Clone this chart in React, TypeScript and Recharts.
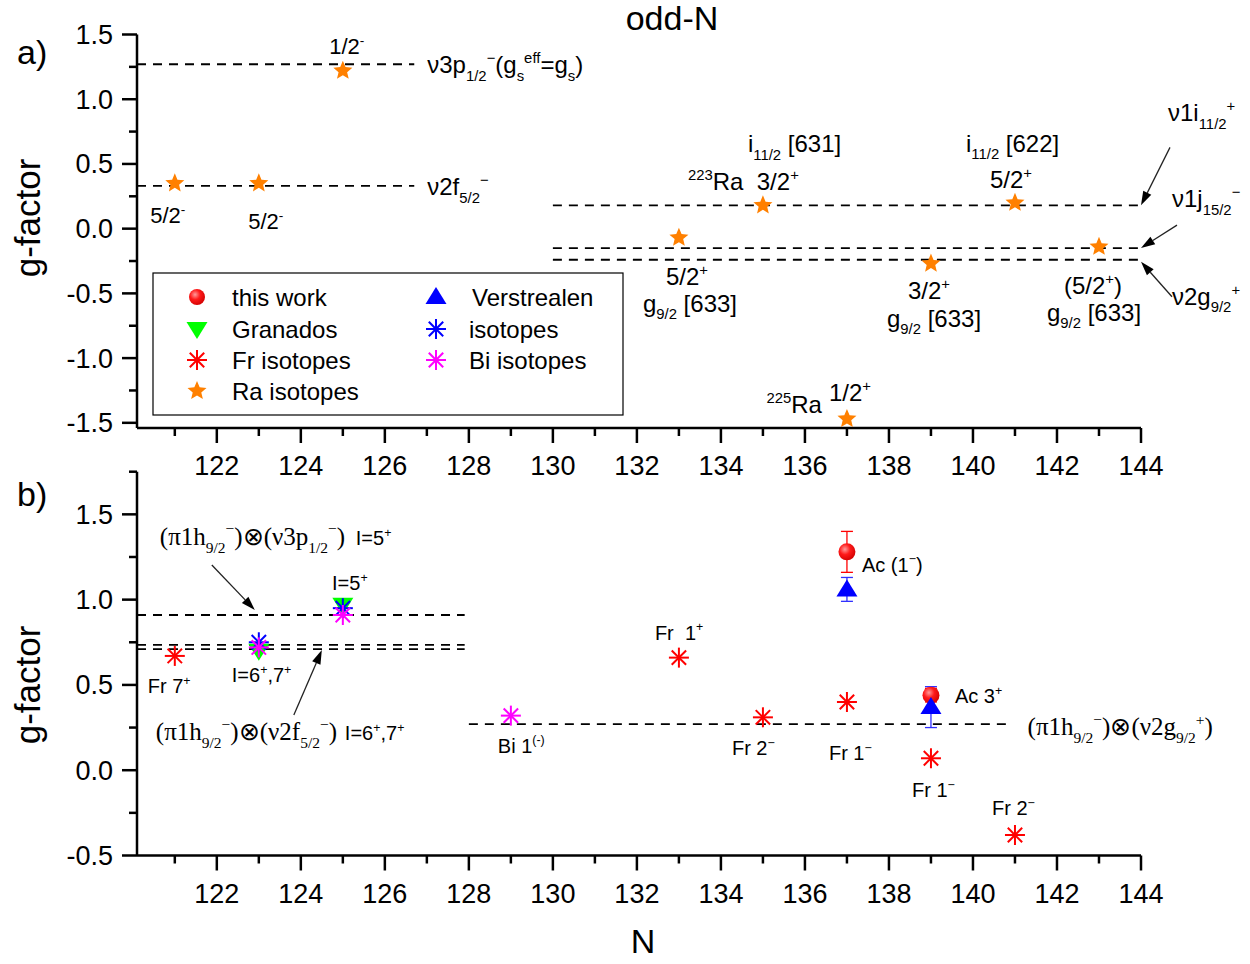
import React from "react";
import { ScatterChart, Scatter, XAxis, YAxis, ReferenceLine, ReferenceDot, ErrorBar } from "recharts";

const SANS = '"Liberation Sans", Arial, Helvetica, sans-serif';
const SERIF = '"Liberation Serif", "Times New Roman", serif';

// axes
const xTicks = [121, 122, 123, 124, 125, 126, 127, 128, 129, 130, 131, 132, 133, 134, 135, 136, 137, 138, 139, 140, 141, 142, 143, 144];
const topYTicks = [-1.5, -1.25, -1, -0.75, -0.5, -0.25, 0, 0.25, 0.5, 0.75, 1, 1.25, 1.5];
const botYTicks = [-0.5, -0.25, 0, 0.25, 0.5, 0.75, 1, 1.25, 1.5, 1.75];

// a) odd-N Ra isotopes
const raN = [121, 123, 125, 133, 135, 137, 139, 141, 143];
const raG = [0.35, 0.35, 1.22, -0.07, 0.18, -1.47, -0.27, 0.2, -0.14];

// single-particle levels, panel a)
const topLevelG = [1.27, 0.33, 0.18, -0.15, -0.24];
const topLevelFrom = [120.1, 120.1, 130, 130, 130];
const topLevelTo = [126.7, 126.7, 144, 144, 144];

// b) odd-odd
const frN = [121, 133, 135, 137, 139, 141];
const frG = [0.67, 0.66, 0.31, 0.4, 0.07, -0.38];
const isoN = [123, 125];
const isoG = [0.75, 0.95];
const biN = [123, 125, 129];
const biG = [0.72, 0.91, 0.32];
const granN = [123, 125];
const granG = [0.7, 0.97];
const thisN = [137, 139];
const thisG = [1.28, 0.44];
const thisErr = [0.12, 0.04];
const verN = [137, 139];
const verG = [1.06, 0.37];
const verErr = [0.07, 0.12];

// coupled configurations, panel b)
const botLevelG = [0.91, 0.735, 0.71, 0.27];
const botLevelFrom = [120.1, 120.1, 120.1, 128];
const botLevelTo = [127.9, 127.9, 127.9, 140.8];

const pts = (xs: number[], ys: number[], es?: number[]) =>
  xs.map((x, i) => ({ x, y: ys[i], e: es ? es[i] : 0 }));

// ---------- markers ----------
const Star = ({ cx, cy, r = 10, fill = "#ff8000" }: any) => {
  const p: string[] = [];
  for (let i = 0; i < 10; i++) {
    const a = (-90 + i * 36) * (Math.PI / 180);
    const rr = i % 2 === 0 ? r : r * 0.45;
    p.push(`${cx + rr * Math.cos(a)},${cy + rr * Math.sin(a)}`);
  }
  return <polygon points={p.join(" ")} fill={fill} />;
};

const Aster = ({ cx, cy, r = 10, color }: any) => (
  <g stroke={color} strokeWidth={2}>
    <line x1={cx - r} y1={cy} x2={cx + r} y2={cy} />
    <line x1={cx} y1={cy - r} x2={cx} y2={cy + r} />
    <line x1={cx - r * 0.72} y1={cy - r * 0.72} x2={cx + r * 0.72} y2={cy + r * 0.72} />
    <line x1={cx - r * 0.72} y1={cy + r * 0.72} x2={cx + r * 0.72} y2={cy - r * 0.72} />
  </g>
);

const Ball = ({ cx, cy, r = 8.5 }: any) => (
  <g>
    <defs>
      <radialGradient id="ballGrad" cx="0.38" cy="0.35" r="0.7">
        <stop offset="0" stopColor="#ff9a9a" />
        <stop offset="0.45" stopColor="#ff1a1a" />
        <stop offset="1" stopColor="#d00000" />
      </radialGradient>
    </defs>
    <circle cx={cx} cy={cy} r={r} fill="url(#ballGrad)" />
  </g>
);

const TriUp = ({ cx, cy, fill = "#0000ff" }: any) => (
  <polygon points={`${cx},${cy - 10} ${cx - 10.5},${cy + 7} ${cx + 10.5},${cy + 7}`} fill={fill} />
);
const TriDown = ({ cx, cy, fill = "#00ff00" }: any) => (
  <polygon points={`${cx},${cy + 10} ${cx - 10.5},${cy - 7} ${cx + 10.5},${cy - 7}`} fill={fill} />
);

// ---------- text with sub/superscripts ----------
function Rich({ s, x, y, size, anchor = "start", family = SANS }: any) {
  const parts: string[] = s.match(/_\{[^}]*\}|\^\{[^}]*\}|[^_^]+/g) || [];
  let cur = 0;
  return (
    <text x={x} y={y} fontSize={size} fontFamily={family} textAnchor={anchor} fill="#000">
      {parts.map((p, i) => {
        const sub = p.startsWith("_{");
        const sup = p.startsWith("^{");
        const t = sub || sup ? p.slice(2, -1) : p;
        const target = sub ? size * 0.32 : sup ? -size * 0.42 : 0;
        const dy = target - cur;
        cur = target;
        return (
          <tspan key={i} dy={dy} fontSize={sub || sup ? size * 0.62 : size}>
            {t}
          </tspan>
        );
      })}
    </text>
  );
}

const Arrow = ({ x1, y1, x2, y2 }: any) => {
  const a = Math.atan2(y2 - y1, x2 - x1);
  const L = 14, W = 4.5;
  const bx = x2 - L * Math.cos(a), by = y2 - L * Math.sin(a);
  const px = -Math.sin(a) * W, py = Math.cos(a) * W;
  return (
    <g>
      <line x1={x1} y1={y1} x2={bx} y2={by} stroke="#222" strokeWidth={1.3} />
      <polygon points={`${x2},${y2} ${bx + px},${by + py} ${bx - px},${by - py}`} fill="#000" />
    </g>
  );
};

// annotations anchored at data points (offsets in px)
type Note = { x: number; y: number; dx: number; dy: number; s: string; size?: number; a?: string; f?: string };
type Arw = { x: number; y: number; tx: number; ty: number; hx: number; hy: number };

const topNotes: Note[] = [
  { x: 125, y: 1.22, dx: 4, dy: -17, s: "1/2^{-}", size: 22, a: "middle" },
  { x: 121, y: 0.35, dx: -7, dy: 40, s: "5/2^{-}", size: 22, a: "middle" },
  { x: 123, y: 0.35, dx: 7, dy: 46, s: "5/2^{-}", size: 22, a: "middle" },
  { x: 126.7, y: 1.27, dx: 13, dy: 9, s: "ν3p_{1/2}^{−}(g_{s}^{eff}=g_{s})", size: 24 },
  { x: 126.7, y: 0.33, dx: 13, dy: 9, s: "ν2f_{5/2}^{−}", size: 24 },
  { x: 135, y: 0.18, dx: -75, dy: -15, s: "^{223}Ra\u00a0\u00a03/2^{+}", size: 24 },
  { x: 135, y: 0.18, dx: -15, dy: -53, s: "i_{11/2} [631]", size: 24 },
  { x: 141, y: 0.2, dx: -49, dy: -51, s: "i_{11/2} [622]", size: 24 },
  { x: 141, y: 0.2, dx: -4, dy: -15, s: "5/2^{+}", size: 24, a: "middle" },
  { x: 133, y: -0.07, dx: 8, dy: 47, s: "5/2^{+}", size: 24, a: "middle" },
  { x: 133, y: -0.07, dx: -36, dy: 74, s: "g_{9/2} [633]", size: 24 },
  { x: 139, y: -0.27, dx: -2, dy: 35, s: "3/2^{+}", size: 24, a: "middle" },
  { x: 139, y: -0.27, dx: -44, dy: 63, s: "g_{9/2} [633]", size: 24 },
  { x: 143, y: -0.14, dx: -6, dy: 47, s: "(5/2^{+})", size: 24, a: "middle" },
  { x: 143, y: -0.14, dx: -52, dy: 74, s: "g_{9/2} [633]", size: 24 },
  { x: 137, y: -1.47, dx: -25, dy: -6, s: "^{225}Ra", size: 24, a: "end" },
  { x: 137, y: -1.47, dx: 3, dy: -18, s: "1/2^{+}", size: 24, a: "middle" },
  { x: 144, y: 0.18, dx: 27, dy: -84, s: "ν1i_{11/2}^{+}", size: 24 },
  { x: 144, y: -0.15, dx: 31, dy: -41, s: "ν1j_{15/2}^{−}", size: 24 },
  { x: 144, y: -0.24, dx: 31, dy: 45, s: "ν2g_{9/2}^{+}", size: 24 },
];
const topArrows: Arw[] = [
  { x: 144, y: 0.18, tx: 29, ty: -58, hx: 0, hy: 0 },
  { x: 144, y: -0.15, tx: 36, ty: -23, hx: 0, hy: 0 },
  { x: 144, y: -0.24, tx: 31, ty: 37, hx: 0, hy: 2 },
];

const botNotes: Note[] = [
  { x: 123, y: 0.91, dx: -99, dy: -70, s: "(π1h_{9/2}^{−})⊗(ν3p_{1/2}^{−})", size: 25, f: SERIF },
  { x: 123, y: 0.91, dx: 97, dy: -70, s: "I=5^{+}", size: 20 },
  { x: 124.5, y: 0.71, dx: -166, dy: 91, s: "(π1h_{9/2}^{−})⊗(ν2f_{5/2}^{−})", size: 25, f: SERIF },
  { x: 124.5, y: 0.71, dx: 23, dy: 91, s: "I=6^{+},7^{+}", size: 20 },
  { x: 125, y: 0.91, dx: 7, dy: -25, s: "I=5^{+}", size: 20, a: "middle" },
  { x: 121, y: 0.67, dx: -27, dy: 37, s: "Fr 7^{+}", size: 20 },
  { x: 123, y: 0.72, dx: -27, dy: 35, s: "I=6^{+},7^{+}", size: 20 },
  { x: 133, y: 0.66, dx: -24, dy: -18, s: "Fr\u00a0\u00a01^{+}", size: 20 },
  { x: 129, y: 0.32, dx: -13, dy: 37, s: "Bi 1^{(-)}", size: 20 },
  { x: 135, y: 0.31, dx: -31, dy: 38, s: "Fr 2^{−}", size: 20 },
  { x: 137, y: 0.4, dx: -18, dy: 58, s: "Fr 1^{−}", size: 20 },
  { x: 139, y: 0.07, dx: -19, dy: 39, s: "Fr 1^{−}", size: 20 },
  { x: 141, y: -0.38, dx: -23, dy: -20, s: "Fr 2^{−}", size: 20 },
  { x: 137, y: 1.28, dx: 15, dy: 20, s: "Ac (1^{−})", size: 20 },
  { x: 139, y: 0.44, dx: 24, dy: 8, s: "Ac 3^{+}", size: 20 },
  { x: 140.8, y: 0.27, dx: 21, dy: 11, s: "(π1h_{9/2}^{−})⊗(ν2g_{9/2}^{+})", size: 25, f: SERIF },
];
const botArrows: Arw[] = [
  { x: 123, y: 0.91, tx: -47, ty: -50, hx: -4, hy: -5 },
  { x: 124.5, y: 0.71, tx: -28, ty: 66, hx: 0, hy: 1 },
];

const noteDot = (n: Note, k: string) => (
  <ReferenceDot
    key={k}
    x={n.x}
    y={n.y}
    r={0}
    ifOverflow="visible"
    shape={(p: any) => (
      <Rich s={n.s} x={p.cx + n.dx} y={p.cy + n.dy} size={n.size ?? 20} anchor={n.a ?? "start"} family={n.f ?? SANS} />
    )}
  />
);
const arrowDot = (a: Arw, k: string) => (
  <ReferenceDot
    key={k}
    x={a.x}
    y={a.y}
    r={0}
    ifOverflow="visible"
    shape={(p: any) => <Arrow x1={p.cx + a.tx} y1={p.cy + a.ty} x2={p.cx + a.hx} y2={p.cy + a.hy} />}
  />
);

// ---------- ticks ----------
const XTick = (p: any) => {
  const v = p.payload.value;
  const major = v % 2 === 0;
  return (
    <g>
      <line x1={p.x} x2={p.x} y1={p.y} y2={p.y + (major ? 15 : 8)} stroke="#000" strokeWidth={2.5} />
      {major && (
        <text x={p.x} y={p.y + 47} textAnchor="middle" fontSize={27} fontFamily={SANS} fill="#000">
          {v}
        </text>
      )}
    </g>
  );
};
const YTick = (p: any) => {
  const v = p.payload.value;
  const major = Math.abs(v * 2 - Math.round(v * 2)) < 1e-6;
  return (
    <g>
      <line x1={p.x} x2={p.x - (major ? 15 : 8)} y1={p.y} y2={p.y} stroke="#000" strokeWidth={2.5} />
      {major && (
        <text x={p.x - 24} y={p.y + 9.5} textAnchor="end" fontSize={27} fontFamily={SANS} fill="#000">
          {v.toFixed(1)}
        </text>
      )}
    </g>
  );
};

const axisLine = { stroke: "#000", strokeWidth: 2.5 };

const levelLines = (g: number[], from: number[], to: number[], k: string) =>
  g.map((v, i) => (
    <ReferenceLine
      key={k + i}
      segment={[{ x: from[i], y: v }, { x: to[i], y: v }]}
      stroke="#000"
      strokeWidth={1.8}
      strokeDasharray="9 7"
      ifOverflow="visible"
    />
  ));

const xAxis = (
  <XAxis
    type="number"
    dataKey="x"
    domain={[120.1, 144]}
    allowDataOverflow
    ticks={xTicks}
    interval={0}
    tick={<XTick />}
    tickLine={false}
    tickSize={0}
    tickMargin={0}
    axisLine={axisLine}
    height={40}
  />
);

function LegendBox() {
  const rows = [297, 329, 360, 391];
  const t = (x: number, y: number, s: string) => (
    <text x={x} y={y + 8.5} fontSize={24} fontFamily={SANS} fill="#000">
      {s}
    </text>
  );
  return (
    <g>
      <rect x={153} y={273} width={470} height={142} fill="#fff" stroke="#000" strokeWidth={1.2} />
      <Ball cx={197} cy={rows[0]} r={8} />
      {t(232, rows[0], "this work")}
      <TriDown cx={197} cy={rows[1]} />
      {t(232, rows[1], "Granados")}
      <Aster cx={197} cy={rows[2]} color="#ff0000" />
      {t(232, rows[2], "Fr isotopes")}
      <Star cx={197} cy={rows[3]} />
      {t(232, rows[3], "Ra isotopes")}
      <TriUp cx={436} cy={rows[0]} />
      {t(472, rows[0], "Verstrealen")}
      <Aster cx={436} cy={rows[1]} color="#0000ff" />
      {t(469, rows[1], "isotopes")}
      <Aster cx={436} cy={rows[2]} color="#ff00ff" />
      {t(469, rows[2], "Bi isotopes")}
    </g>
  );
}

export default function App() {
  return (
    <div style={{ position: "absolute", left: 0, top: 0, width: 1250, height: 964, background: "#fff" }}>
      <div style={{ position: "absolute", left: 0, top: 0 }}>
        <ScatterChart width={1250} height={480} margin={{ top: 34.5, right: 109, bottom: 12, left: 0 }}>
          {xAxis}
          <YAxis
            type="number"
            dataKey="y"
            domain={[-1.54, 1.5]}
            allowDataOverflow
            ticks={topYTicks}
            interval={0}
            tick={<YTick />}
            tickLine={false}
            tickSize={0}
            tickMargin={0}
            axisLine={axisLine}
            width={137}
          />
          {levelLines(topLevelG, topLevelFrom, topLevelTo, "tl")}
          <Scatter
            name="Ra isotopes"
            data={pts(raN, raG)}
            isAnimationActive={false}
            shape={(p: any) => <Star cx={p.cx} cy={p.cy} />}
          />
          {topNotes.map((n, i) => noteDot(n, "tn" + i))}
          {topArrows.map((a, i) => arrowDot(a, "ta" + i))}
        </ScatterChart>
      </div>
      <div style={{ position: "absolute", left: 0, top: 440 }}>
        <ScatterChart width={1250} height={524} margin={{ top: 31.7, right: 109, bottom: 68.5, left: 0 }}>
          {xAxis}
          <YAxis
            type="number"
            dataKey="y"
            domain={[-0.5, 1.75]}
            allowDataOverflow
            ticks={botYTicks}
            interval={0}
            tick={<YTick />}
            tickLine={false}
            tickSize={0}
            tickMargin={0}
            axisLine={axisLine}
            width={137}
          />
          {levelLines(botLevelG, botLevelFrom, botLevelTo, "bl")}
          <Scatter name="Granados" data={pts(granN, granG)} isAnimationActive={false}
            shape={(p: any) => <TriDown cx={p.cx} cy={p.cy} />} />
          <Scatter name="isotopes" data={pts(isoN, isoG)} isAnimationActive={false}
            shape={(p: any) => <Aster cx={p.cx} cy={p.cy} color="#0000ff" />} />
          <Scatter name="Bi isotopes" data={pts(biN, biG)} isAnimationActive={false}
            shape={(p: any) => <Aster cx={p.cx} cy={p.cy} color="#ff00ff" />} />
          <Scatter name="Fr isotopes" data={pts(frN, frG)} isAnimationActive={false}
            shape={(p: any) => <Aster cx={p.cx} cy={p.cy} color="#ff0000" />} />
          <Scatter name="this work" data={pts(thisN, thisG, thisErr)} isAnimationActive={false}
            shape={(p: any) => <Ball cx={p.cx} cy={p.cy} />}>
            <ErrorBar dataKey="e" direction="y" width={6} stroke="#ff0000" strokeWidth={1.3} />
          </Scatter>
          <Scatter name="Verstrealen" data={pts(verN, verG, verErr)} isAnimationActive={false}
            shape={(p: any) => <TriUp cx={p.cx} cy={p.cy} />}>
            <ErrorBar dataKey="e" direction="y" width={6} stroke="#3030ff" strokeWidth={1.3} />
          </Scatter>
          {botNotes.map((n, i) => noteDot(n, "bn" + i))}
          {botArrows.map((a, i) => arrowDot(a, "ba" + i))}
        </ScatterChart>
      </div>
      <svg
        width={1250}
        height={964}
        style={{ position: "absolute", left: 0, top: 0, pointerEvents: "none" }}
      >
        <text x={672} y={30} textAnchor="middle" fontSize={34} fontFamily={SANS}>odd-N</text>
        <text x={17} y={64} fontSize={34} fontFamily={SANS}>a)</text>
        <text x={17} y={506} fontSize={34} fontFamily={SANS}>b)</text>
        <text x={643} y={953} textAnchor="middle" fontSize={34} fontFamily={SANS}>N</text>
        <text transform="translate(40,218) rotate(-90)" textAnchor="middle" fontSize={35} fontFamily={SANS}>g-factor</text>
        <text transform="translate(40,685) rotate(-90)" textAnchor="middle" fontSize={35} fontFamily={SANS}>g-factor</text>
        <LegendBox />
      </svg>
    </div>
  );
}
